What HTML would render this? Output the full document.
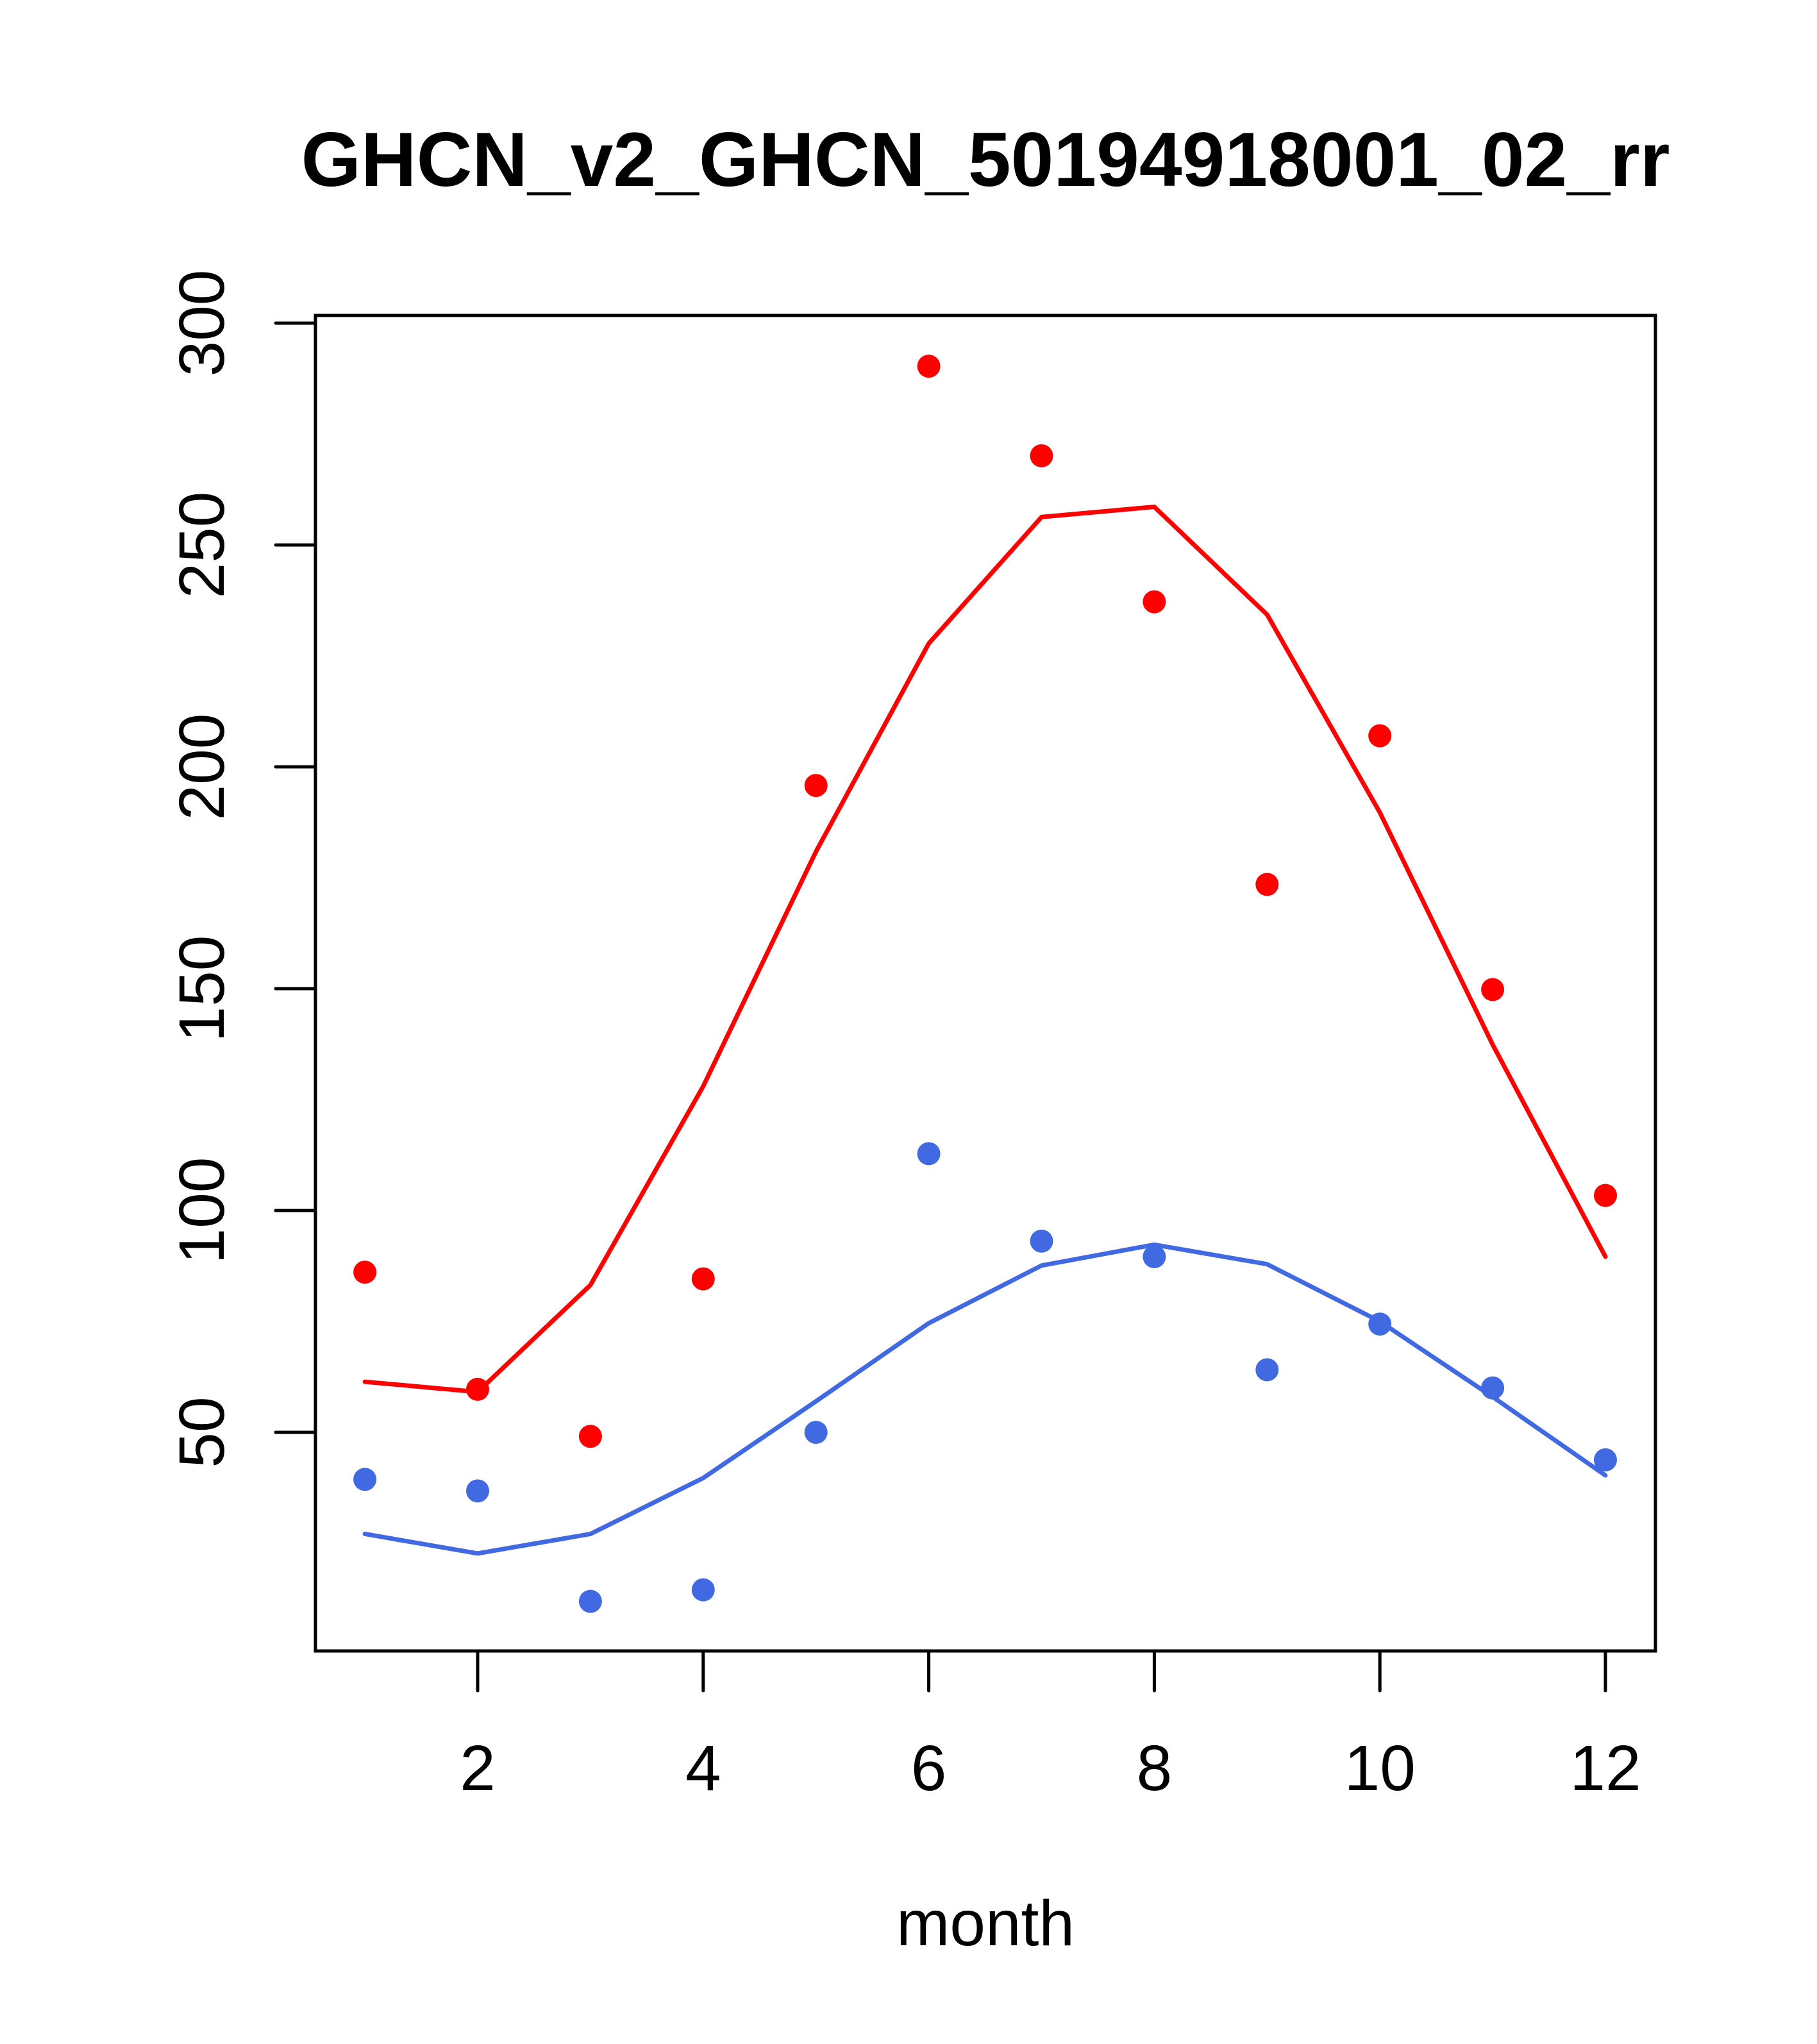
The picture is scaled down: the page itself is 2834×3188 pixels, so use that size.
<!DOCTYPE html>
<html><head><meta charset="utf-8"><style>html,body{margin:0;padding:0;background:#fff}svg{display:block}</style></head>
<body>
<svg id="chart" width="2834" height="3188" viewBox="0 0 2834 3188" xmlns="http://www.w3.org/2000/svg" font-family="'Liberation Sans', sans-serif">
<text x="1537" y="290" font-size="120" font-weight="bold" text-anchor="middle">GHCN_v2_GHCN_50194918001_02_rr</text>
<text x="1537" y="3034" font-size="100" text-anchor="middle">month</text>
<rect x="492" y="492" width="2090" height="2083" fill="none" stroke="#000" stroke-width="5"/>
<g id="xaxis"></g>
<g id="yaxis"></g>
<g id="series"></g>
</svg>
<script>
const months = [1,2,3,4,5,6,7,8,9,10,11,12];
const xTicks = [2,4,6,8,10,12];
const yTicks = [50,100,150,200,250,300];
const redPoints = [86.1,59.7,49.1,84.6,195.8,290.3,270.1,237.2,173.5,207,149.8,103.4];
const redLine = [61.4,59.1,83.2,128,180.9,227.8,256.3,258.6,234.3,189.7,137.4,89.6];
const bluePoints = [39.4,36.8,11.9,14.5,50,112.8,93.1,89.6,64.1,74.4,60,43.8];
const blueLine = [27.1,22.7,27.1,39.7,57,74.6,87.6,92.3,87.9,75,58,40.3];

const NS = 'http://www.w3.org/2000/svg';
function xs(m){ return 745 + (m-2)*175.9; }
function ys(v){ return 2234 - (v-50)*6.92; }
function mk(tag, attrs, parent){
  const e = document.createElementNS(NS, tag);
  for (const k in attrs) e.setAttribute(k, attrs[k]);
  parent.appendChild(e);
  return e;
}
const xa = document.getElementById('xaxis');
mk('line',{x1:xs(2),x2:xs(12),y1:2575,y2:2575,stroke:'#000','stroke-width':5},xa);
xTicks.forEach(t=>{
  const l = mk('line',{x1:xs(t),x2:xs(t),y1:2575,y2:2637,stroke:'#000','stroke-width':5,'stroke-linecap':'round'},xa);
  
  
  const tx = mk('text',{x:xs(t),y:2792,'font-size':100,'text-anchor':'middle'},xa);
  tx.textContent = t;
  
  
});
const ya = document.getElementById('yaxis');
yTicks.forEach(t=>{
  const l = mk('line',{x1:430,x2:492,y1:ys(t),y2:ys(t),stroke:'#000','stroke-width':5,'stroke-linecap':'round'},ya);
  
  
  const tx = mk('text',{x:0,y:0,'font-size':100,'text-anchor':'middle',transform:'translate(349,'+ys(t)+') rotate(-90)'},ya);
  tx.textContent = t;
  
  
});
const sg = document.getElementById('series');
function drawLine(vals, color, name){
  const p = mk('polyline',{points:vals.map((v,i)=>xs(months[i])+','+ys(v)).join(' '),fill:'none',stroke:color,'stroke-width':7,'stroke-linejoin':'round','stroke-linecap':'round'},sg);
  
  
}
function drawPoints(vals, color, name){
  vals.forEach((v,i)=>{
    const c = mk('circle',{cx:xs(months[i]),cy:ys(v),r:18,fill:color},sg);
    
    
  });
}
drawLine(redLine,'#ff0000','red-line');
drawLine(blueLine,'#4169e1','blue-line');
drawPoints(redPoints,'#ff0000','red-point');
drawPoints(bluePoints,'#4169e1','blue-point');
</script>
</body></html>
